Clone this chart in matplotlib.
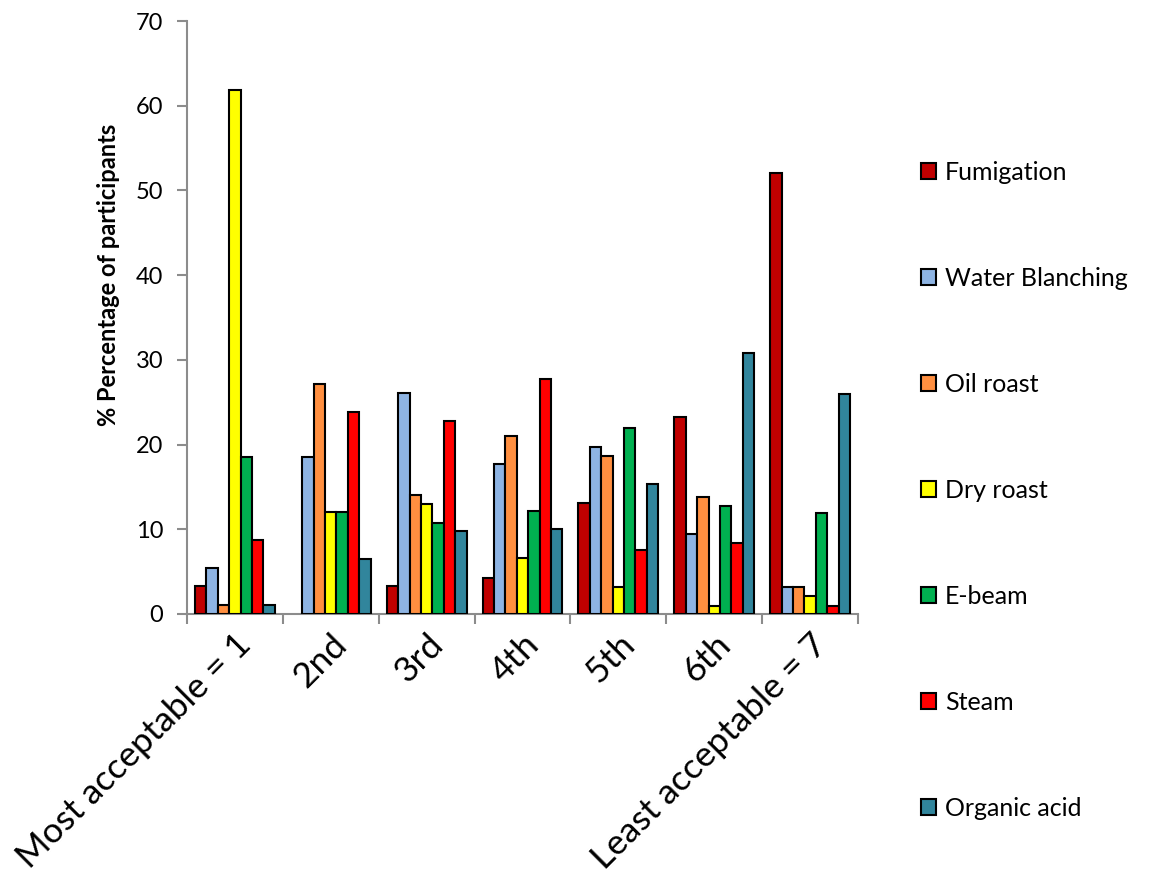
import matplotlib
matplotlib.use("Agg")
import matplotlib.pyplot as plt
import numpy as np
from matplotlib.patches import Patch

categories = ["Most acceptable = 1", "2nd", "3rd", "4th", "5th", "6th", "Least acceptable = 7"]
series_names = ["Fumigation", "Water Blanching", "Oil roast", "Dry roast", "E-beam", "Steam", "Organic acid"]
fumigation = [3.3, 0.0, 3.3, 4.3, 13.1, 23.3, 52.1]
water_blanching = [5.4, 18.5, 26.1, 17.7, 19.7, 9.5, 3.2]
oil_roast = [1.1, 27.2, 14.1, 21.0, 18.6, 13.8, 3.2]
dry_roast = [61.9, 12.0, 13.0, 6.6, 3.2, 1.0, 2.1]
e_beam = [18.5, 12.0, 10.8, 12.1, 21.9, 12.7, 11.9]
steam = [8.7, 23.9, 22.8, 27.7, 7.6, 8.4, 1.0]
organic_acid = [1.1, 6.5, 9.8, 10.0, 15.3, 30.8, 26.0]
yticks = [0, 10, 20, 30, 40, 50, 60, 70]

colors = ["#C00000", "#8EB4E3", "#FF8F40", "#FFFF00", "#00B050", "#FF0000", "#31859C"]
data = [fumigation, water_blanching, oil_roast, dry_roast, e_beam, steam, organic_acid]

plt.rcParams['font.family'] = ['Lato', 'DejaVu Sans']

fig = plt.figure(figsize=(11.51, 8.82), dpi=100)
ax = fig.add_axes([187/1151, 1 - 614/882, (858-187)/1151, (614-21)/882])

x = np.arange(len(categories))
bw = 0.119
n = len(data)
for i, (vals, c) in enumerate(zip(data, colors)):
    offs = (i - (n - 1) / 2) * bw
    v = np.array(vals, dtype=float)
    m = v > 0
    ax.bar(x[m] + offs, v[m], width=bw, color=c, edgecolor="black", linewidth=1.5, zorder=3)

ax.set_xlim(-0.5, len(categories) - 0.5)
ax.set_ylim(0, 70)
ax.set_yticks(yticks)
ax.set_yticklabels([str(t) for t in yticks], fontsize=17)
ax.set_xticks(x)
ax.set_xticklabels(categories, rotation=45, ha="right", rotation_mode="anchor", fontsize=25.5)
ax.tick_params(axis="x", which="major", length=0, pad=10)
ax.set_xticks(np.arange(-0.5, len(categories)), minor=True)
ax.tick_params(axis="x", which="minor", length=7, color="#8c8c8c", width=1.5, direction="out")
ax.tick_params(axis="y", length=7, color="#8c8c8c", width=1.5, direction="out", pad=10)

for s in ["top", "right"]:
    ax.spines[s].set_visible(False)
for s in ["left", "bottom"]:
    ax.spines[s].set_color("#8c8c8c")
    ax.spines[s].set_linewidth(1.5)

ax.set_ylabel("% Percentage of participants", fontsize=17, fontweight="bold")
ax.yaxis.set_label_coords(-0.1, 0.572)

handles = [Patch(facecolor=c, edgecolor="black", linewidth=1.5) for c in colors]
fig.legend(handles, series_names, loc="center left", bbox_to_anchor=(898/1151, 1 - 490/882),
           frameon=False, fontsize=18, labelspacing=3.32, handlelength=0.62, handleheight=0.62,
           handletextpad=0.35)

fig.savefig("out.png", dpi=100)
